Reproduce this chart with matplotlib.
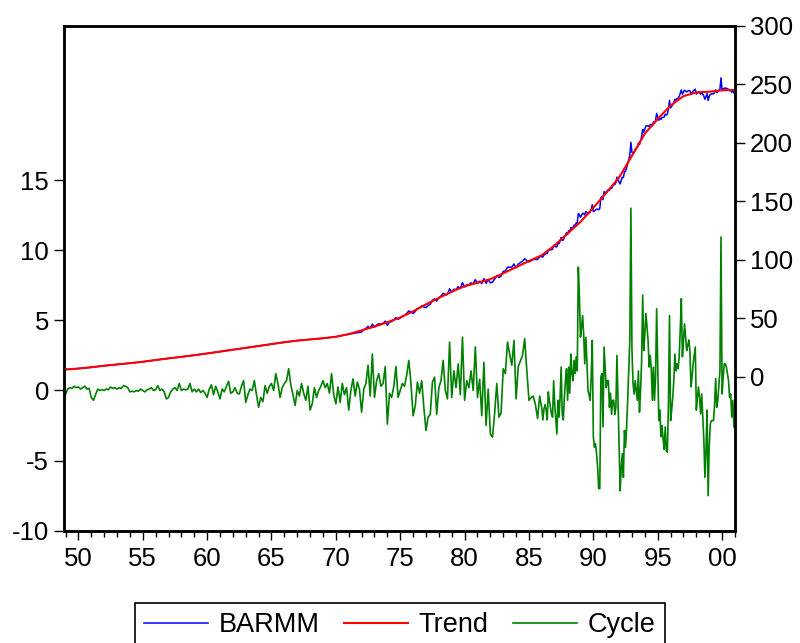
import numpy as np
import matplotlib
matplotlib.use("Agg")
import matplotlib.pyplot as plt

plt.rcParams['font.family'] = ['Liberation Sans', 'DejaVu Sans']
plt.rcParams['axes.unicode_minus'] = False

# ---------------- data ----------------
series_names = ["BARMM", "Trend", "Cycle"]

# HP trend, January of each year 1949..2001 (right axis)
trend_start_year = 1949
trend = [6.3, 7.1, 8.2, 9.5, 10.6, 11.7, 12.9, 14.4, 15.8, 17.1,
         18.5, 20.0, 21.6, 23.2, 24.8, 26.4, 28.0, 29.6, 31.0, 32.0,
         33.0, 34.3, 36.5, 39.8, 43.0, 46.7, 50.8, 56.0, 62.0, 67.5,
         72.8, 77.5, 80.5, 83.5, 88.5, 93.8, 99.0, 104.0, 112.5, 122.5,
         132.5, 144.6, 157.3, 170.5, 189.0, 208.0, 220.5, 232.0, 240.0, 243.2,
         243.8, 245.0, 245.4]

# BARMM: annual 1949..1971
barmm_annual_1949_1971 = [6.3, 7.1, 8.2, 9.5, 10.6, 11.7, 12.9, 14.4, 15.8, 17.1,
                          18.5, 20.0, 21.6, 23.2, 24.8, 26.4, 28.0, 29.6, 31.0, 32.0,
                          33.0, 34.3, 36.5]
# BARMM: bi-monthly 1972..1985
barmm_bimonthly_1972_1985 = [
    38.3, 40.4, 41.4, 43.2, 41.5, 45.1,
    42.5, 44.3, 45.4, 45.1, 45.8, 47.6,
    44.1, 46.9, 47.3, 48.7, 50.7, 49.2,
    50.3, 51.8, 52.5, 54.3, 56.3, 55.6,
    54.2, 55.9, 58.6, 58.8, 60.7, 59.8,
    59.2, 61.0, 62.1, 65.4, 66.7, 64.9,
    67.7, 69.1, 71.5, 70.2, 70.4, 75.3,
    72.3, 75.0, 74.6, 77.1, 75.6, 80.5,
    76.8, 78.7, 78.7, 80.4, 79.5, 83.1,
    80.0, 81.8, 79.7, 84.0, 80.0, 83.1,
    80.4, 81.0, 83.6, 86.5, 84.9, 86.1,
    90.1, 90.6, 93.8, 93.8, 93.8, 96.5,
    93.2, 96.4, 97.6, 98.9, 101.0, 99.5,
    98.3, 99.3, 100.3, 100.5, 100.3, 102.8]
# BARMM: monthly 1986..2000
barmm_monthly_1986_2000 = [
    102.7, 102.6, 104.1, 105.1, 105.4, 105.4, 108.2, 108.3, 108.5, 108.7, 109.2, 112.5,
    111.5, 111.2, 111.1, 114.3, 113.9, 116.2, 119.2, 116.6, 117.1, 119.5, 121.5, 123.3,
    121.8, 125.0, 124.0, 127.6, 127.0, 127.4, 129.7, 129.5, 131.6, 131.4, 139.6, 138.4,
    136.3, 138.0, 139.9, 139.5, 138.4, 141.3, 140.6, 139.5, 140.2, 140.8, 143.5, 147.1,
    141.3, 141.7, 142.9, 143.3, 143.3, 142.9, 144.0, 153.0, 154.3, 151.5, 158.3, 157.9,
    157.5, 159.1, 160.2, 159.4, 161.5, 161.1, 163.2, 164.3, 164.4, 166.0, 170.8, 168.7,
    166.5, 164.9, 168.1, 170.6, 170.5, 175.4, 175.7, 178.7, 182.1, 185.9, 189.5, 200.5,
    191.9, 191.1, 192.0, 194.5, 195.3, 196.2, 199.9, 198.6, 201.7, 205.4, 211.6, 209.3,
    212.0, 214.5, 214.6, 214.7, 213.9, 215.7, 215.9, 214.6, 218.0, 216.7, 219.4, 225.3,
    222.2, 219.4, 221.0, 220.1, 221.8, 221.9, 222.1, 224.6, 223.9, 224.7, 229.1, 236.4,
    229.9, 231.3, 232.8, 234.7, 237.3, 236.7, 237.9, 238.3, 239.7, 242.3, 245.3, 241.7,
    243.5, 245.1, 244.3, 243.7, 244.3, 244.9, 244.5, 242.2, 243.1, 244.3, 245.2, 246.0,
    241.8, 242.8, 243.6, 242.9, 241.7, 243.2, 241.6, 240.1, 237.4, 239.4, 242.3, 236.3,
    239.8, 241.5, 241.9, 242.0, 242.0, 243.2, 245.2, 243.2, 243.8, 244.9, 246.0, 255.7,
    244.6, 245.9, 246.8, 246.9, 246.7, 246.3, 245.9, 244.7, 245.1, 243.4, 244.7, 242.8]

# Cycle (left axis): bi-monthly 1949..1985
cycle_bimonthly_1949_1985 = [
    -0.3, 0.1, 0.2, 0.15, 0.3, 0.2,
    0.25, 0.1, 0.2, 0.3, 0.1, 0.15,
    -0.5, -0.7, -0.3, 0.1, 0.0, 0.05,
    0.0, 0.1, 0.05, 0.25, 0.15, 0.2,
    0.1, 0.2, 0.15, 0.35, 0.3, 0.2,
    -0.1, -0.05, -0.1, 0.0, -0.05, 0.1,
    0.0, -0.1, 0.05, 0.1, 0.2, 0.0,
    0.05, 0.35, 0.0, 0.1, -0.1, -0.6,
    -0.5, -0.1, 0.1, 0.2, 0.0, 0.5,
    0.0, 0.1, 0.05, 0.1, 0.5, -0.1,
    0.1, -0.1, 0.1, -0.15, 0.0, -0.2,
    -0.5, 0.1, 0.4, -0.3, 0.3, -0.1,
    -0.6, 0.1, -0.1, 0.3, 0.65, -0.2,
    -0.1, 0.2, -0.2, -0.25, 0.3, 0.7,
    -0.85, -0.3, 0.1, 0.0, 0.7, -0.3,
    -1.2, -0.5, -0.8, 0.35, -0.2, 0.3,
    0.5, 0.0, 1.2, 0.5, -0.5, 0.2,
    0.5, 0.7, 1.55, 0.4, -0.3, -1.07,
    0.0, -0.4, 0.5, -0.2, -0.7, 0.3,
    -1.4, -0.95, 0.2, -0.5, 0.0, 0.3,
    0.7, 0.2, 0.5, -0.2, 1.2, -0.3,
    -0.95, 0.25, -0.85, 0.5, -0.3, 0.2,
    -1.4, 0.0, 0.83, -0.4, 0.6, 0.1,
    -1.55, 0.1, 0.5, 1.8, -0.4, 2.6,
    -0.5, 0.7, 1.2, 0.3, 0.5, 1.7,
    -2.4, -0.2, -0.5, 0.3, 1.7, -0.5,
    0.0, 0.5, 0.3, 1.1, 2.15, 0.5,
    -1.8, -1.1, 0.6, -0.2, 0.7, -1.2,
    -2.85, -1.9, -1.7, 0.6, 0.95, -1.7,
    0.2, 0.7, 2.15, 0.0, -0.6, 3.45,
    -0.5, 1.4, 0.2, 1.9, -0.3, 3.8,
    -0.7, 0.7, 0.2, 1.4, 0.0, 3.1,
    -0.5, 0.8, -1.8, 2.0, -2.5, 0.1,
    -3.1, -3.33, -1.6, 0.5, -1.9, -1.6,
    1.55, 1.2, 3.45, 2.6, 1.8, 3.57,
    -0.6, 1.7, 2.1, 2.5, 3.7, 1.4,
    -0.7, -0.5, -0.4, -1.0, -2.0, -0.4]
# Cycle: monthly 1986..2000
cycle_monthly_1986_2000 = [
    -1.3, -2.1, -1.3, -1.0, -1.4, -2.1, -0.1, -0.7, -1.2, -1.7, -1.9, 0.7,
    -1.0, -2.1, -3.1, -0.7, -1.9, -0.5, 1.67, -1.7, -2.1, -0.5, 0.7, 1.55,
    -0.7, 1.67, -0.2, 2.6, 1.2, 0.7, 2.15, 1.2, 2.4, 1.4, 8.8, 6.7,
    3.8, 4.5, 5.35, 4.0, 1.9, 3.8, 2.1, 0.0, -0.3, -0.7, 1.0, 3.57,
    -3.3, -4.05, -3.8, -4.5, -5.5, -7.0, -7.0, 0.95, 1.2, -2.6, 3.1, 1.7,
    0.2, 0.7, 0.7, -1.2, -0.2, -1.7, -0.7, -0.7, -1.7, -1.2, 2.5, -0.7,
    -4.05, -7.15, -5.5, -4.5, -6.2, -2.85, -4.05, -2.6, -0.7, 1.5, 3.6, 13.0,
    2.9, 0.5, -0.25, 0.7, 0.0, -0.7, 1.4, -1.55, 0.0, 2.1, 6.8, 2.85,
    4.0, 5.5, 4.5, 3.6, 1.67, 2.5, 1.55, -0.7, 1.67, -0.7, 1.0, 5.83,
    1.67, -2.15, -1.4, -3.3, -2.5, -3.45, -4.2, -2.6, -4.3, -4.4, -1.0, 5.35,
    -2.15, -1.4, -0.5, 0.7, 2.6, 1.4, 1.9, 1.55, 2.4, 4.3, 6.55, 2.4,
    3.5, 4.75, 3.8, 2.85, 3.2, 3.6, 2.85, 0.25, 0.95, 1.9, 2.5, 3.1,
    -1.4, -0.5, 0.25, -0.5, -1.67, -0.25, -1.9, -3.5, -6.2, -4.3, -1.4, -7.5,
    -4.0, -2.4, -2.15, -2.15, -2.15, -1.0, 0.85, -1.2, -0.7, 0.3, 1.4, 10.95,
    -0.25, 0.95, 1.9, 1.9, 1.67, 1.2, 0.7, -0.5, -0.25, -1.9, -0.7, -2.6]

left_ticks = [-10, -5, 0, 5, 10, 15]
right_ticks = [0, 50, 100, 150, 200, 250, 300]
x_major_years = [1950, 1955, 1960, 1965, 1970, 1975, 1980, 1985, 1990, 1995, 2000]
x_tick_labels = ["50", "55", "60", "65", "70", "75", "80", "85", "90", "95", "00"]

# ---------------- time axes ----------------
t_trend = trend_start_year + np.arange(len(trend))
t_barmm = np.concatenate([1949 + np.arange(len(barmm_annual_1949_1971)),
                          1972 + np.arange(len(barmm_bimonthly_1972_1985)) / 6.0,
                          1986 + np.arange(len(barmm_monthly_1986_2000)) / 12.0])
barmm = np.concatenate([barmm_annual_1949_1971, barmm_bimonthly_1972_1985,
                        barmm_monthly_1986_2000])
t_cycle = np.concatenate([1949 + np.arange(len(cycle_bimonthly_1949_1985)) / 6.0,
                          1986 + np.arange(len(cycle_monthly_1986_2000)) / 12.0])
cycle = np.concatenate([cycle_bimonthly_1949_1985, cycle_monthly_1986_2000])

# ---------------- figure ----------------
fig = plt.figure(figsize=(8, 6.43), dpi=100)
fig.patch.set_facecolor("white")
ax = fig.add_axes([0.0806, 0.1747, 0.8381, 0.7849])
ax2 = ax.twinx()

l_cycle, = ax.plot(t_cycle, cycle, color="#008000", lw=1.2)
l_barmm, = ax2.plot(t_barmm, barmm, color="#0000FF", lw=1.1)
l_trend, = ax2.plot(t_trend, trend, color="#FF0000", lw=1.5)

ax.set_xlim(1948.92, 2001.0)
ax.set_ylim(-10, 26)
ax2.set_ylim(-131.5, 300)

ax.set_yticks(left_ticks)
ax.set_yticklabels([str(v) for v in left_ticks])
ax2.set_yticks(right_ticks)
ax2.set_yticklabels([str(v) for v in right_ticks])
ax.set_xticks(x_major_years)
ax.set_xticklabels(x_tick_labels)
ax.set_xticks(np.arange(1949, 2002), minor=True)

ax.tick_params(axis="y", direction="out", length=7, width=1, labelsize=18.5, pad=4)
ax.tick_params(axis="x", which="major", direction="out", length=6.5, width=1,
               labelsize=18.5, pad=5)
ax.tick_params(axis="x", which="minor", direction="out", length=4.5, width=1)
ax2.tick_params(axis="y", direction="out", length=7, width=1, labelsize=18.5, pad=4)

for a in (ax, ax2):
    for s in a.spines.values():
        s.set_linewidth(1.8)
        s.set_color("black")

leg = fig.legend([l_barmm, l_trend, l_cycle], series_names,
                 loc="upper center", bbox_to_anchor=(0.5, 1 - 603 / 643),
                 ncol=3, frameon=True, fancybox=False, edgecolor="black",
                 fontsize=19.5, handlelength=2.35, handletextpad=0.4,
                 columnspacing=0.9, borderpad=0.35, borderaxespad=0)
leg.get_frame().set_linewidth(1.2)
leg.get_frame().set_alpha(1)

fig.savefig("out.png", dpi=100)
